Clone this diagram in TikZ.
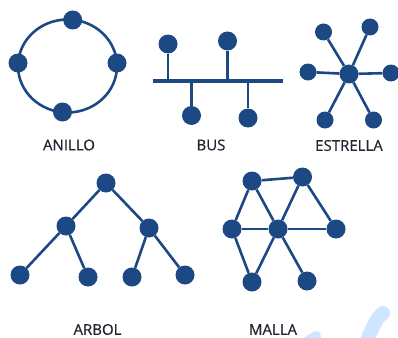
\documentclass[tikz,border=0pt]{standalone}
\usepackage{fontspec}
\setmainfont{Open Sans}
\newfontfamily\lblfont{Open Sans}[FakeBold=0.5]
\definecolor{netblue}{RGB}{28,72,132}
\definecolor{labelgray}{RGB}{35,35,50}
\definecolor{wmblue}{RGB}{206,230,255}
\begin{document}
\begin{tikzpicture}[x=1pt,y=-1pt,
  dot/.style={circle,fill=netblue,inner sep=0pt,minimum size=19pt},
  sdot/.style={circle,fill=netblue,inner sep=0pt,minimum size=17pt},
  link/.style={draw=netblue,line width=2.6pt},
  busline/.style={draw=netblue,line width=3.4pt},
  lbl/.style={text=labelgray,font=\lblfont\fontsize{15}{18}\selectfont,inner sep=0pt},
  wm/.style={draw=wmblue,line width=14pt,line cap=round}]
\useasboundingbox (0,0) rectangle (398,337);
\clip (0,0) rectangle (398,337);
\fill[white] (0,0) rectangle (398,337);
% watermark
\draw[wm] (364,348) .. controls (370,333) and (376,318) .. (383,313);
\draw[wm, line width=10pt] (302,345) -- (316,336);
% ANILLO
\draw[link] (67.5,66) ellipse [x radius=49.5, y radius=46.5];
\node[dot] (a1) at (72.7,20) {};
\node[dot] (a2) at (18,63) {};
\node[dot] (a3) at (117,63) {};
\node[dot] (a4) at (62.5,112) {};
\node[lbl] (la) at (69,145) {ANILLO};
% BUS
\coordinate (bl) at (152.5,81);
\coordinate (br) at (283,81);
\coordinate (s1) at (168,81);
\coordinate (s2) at (227.5,81);
\coordinate (s3) at (191.5,81);
\coordinate (s4) at (248,81);
\node[dot] (b1) at (168,44) {};
\node[dot] (b2) at (227.5,41) {};
\node[dot] (b3) at (191.5,115.5) {};
\node[dot] (b4) at (248,118) {};
\draw[link] (b1) -- (s1);
\draw[link] (b2) -- (s2);
\draw[link] (b3) -- (s3);
\draw[link] (b4) -- (s4);
\draw[busline] (bl) -- (br);
\node[lbl] (lb) at (211,145) {BUS};
% ESTRELLA
\node[dot] (e0) at (349,74) {};
\node[sdot] (e1) at (323.5,32) {};
\node[sdot] (e2) at (370,27) {};
\node[sdot] (e3) at (308,72) {};
\node[sdot] (e4) at (391,73) {};
\node[sdot] (e5) at (325,120) {};
\node[sdot] (e6) at (373.5,120) {};
\foreach \n in {e1,e2,e3,e4,e5,e6} \draw[link] (e0) -- (\n);
\node[lbl] (le) at (349,145.5) {ESTRELLA};
% ARBOL
\node[dot] (t0) at (106,183) {};
\node[dot] (t1) at (66,226) {};
\node[dot] (t2) at (149,228) {};
\node[dot] (t3) at (20,275) {};
\node[dot] (t4) at (88,277) {};
\node[dot] (t5) at (132,277) {};
\node[dot] (t6) at (185,275) {};
\draw[link] (t0) -- (t1);
\draw[link] (t0) -- (t2);
\draw[link] (t1) -- (t3);
\draw[link] (t1) -- (t4);
\draw[link] (t2) -- (t5);
\draw[link] (t2) -- (t6);
\node[lbl] (lt) at (97.5,329.5) {ARBOL};
% MALLA
\node[dot] (m1) at (252,181) {};
\node[dot] (m2) at (302.5,177) {};
\node[dot] (m3) at (232,229) {};
\node[dot] (m4) at (278,229) {};
\node[dot] (m5) at (336,229) {};
\node[dot] (m6) at (252,282) {};
\node[dot] (m7) at (307,281) {};
\draw[link] (m1) -- (m2);
\draw[link] (m1) -- (m3);
\draw[link] (m1) -- (m4);
\draw[link] (m2) -- (m4);
\draw[link] (m2) -- (m5);
\draw[link] (m3) -- (m4);
\draw[link] (m4) -- (m5);
\draw[link] (m3) -- (m6);
\draw[link] (m4) -- (m6);
\draw[link] (m4) -- (m7);
\node[lbl] (lm) at (273,329.5) {MALLA};
\end{tikzpicture}
\end{document}
